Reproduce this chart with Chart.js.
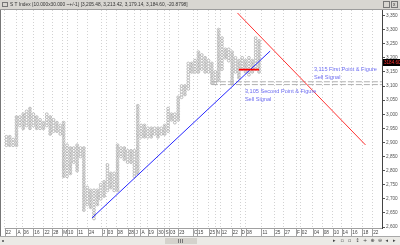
<!DOCTYPE html>
<html>
<head>
<meta charset="utf-8">
<script src="https://cdn.jsdelivr.net/npm/chart.js@4.4.0/dist/chart.umd.min.js"></script>
<style>
  html, body { margin: 0; padding: 0; background: #fff; }
  #chart { display: block; }
</style>
</head>
<body>
<canvas id="chart" width="400" height="245"></canvas>
<script>
// Point & figure columns, box size 10 (low / high box of each column)
const boxSize = 10;
const colLow = [2890, 2890, 2890, 2890, 2960, 2950, 2960, 2950, 2960, 2950,
  2950, 2950, 2960, 2930, 2940, 2940, 2930, 2780, 2780, 2790,
  2830, 2800, 2850, 2660, 2680, 2670, 2630, 2680, 2700, 2710,
  2730, 2740, 2730, 2730, 2850, 2840, 2830, 2830, 2780, 2790,
  2920, 2920, 2920, 2920, 2930, 2920, 2930, 2930, 2940, 2980,
  2970, 2980, 3060, 3070, 3090, 3150, 3150, 3150, 3160, 3150,
  3150, 3110, 3110, 3120, 3160, 3200, 3190, 3110, 3150, 3130,
  3160, 3150, 3140, 3150, 3160, 3150];
const colHigh = [2920, 2920, 2910, 2990, 2990, 3000, 3010, 3020, 3000, 2990,
  2980, 2970, 3000, 2990, 2980, 2970, 2960, 2970, 2890, 2880,
  2880, 2890, 2880, 2880, 2740, 2730, 2730, 2730, 2750, 2760,
  2820, 2790, 2790, 2890, 2880, 2880, 2870, 2870, 2870, 3030,
  2960, 2960, 2950, 2950, 2950, 2950, 2950, 2960, 3020, 3000,
  3000, 3060, 3100, 3100, 3180, 3180, 3190, 3220, 3210, 3200,
  3190, 3180, 3150, 3300, 3270, 3230, 3230, 3220, 3200, 3190,
  3200, 3190, 3200, 3190, 3270, 3260];

// date markers along the column axis
const dateLabels = ['22', 'A', '06', '16', '22', '28', 'M', '10', '11', '24',
  'J', '03', '08', '28', 'J', 'A', '19', '30', 'S', '03', '23', 'O', '15', '25',
  'N', '12', '22', 'D', '08', '11', '25', '27', 'F', '02', '04', '08', '10',
  '14', '16', '18', '22'];
const datePos = [-0.5, 3, 4.8, 8, 11, 13.6, 16.6, 18, 21, 24.2,
  28.3, 29.8, 32.7, 36, 38, 39.8, 41.9, 44.8, 46.9, 48.3, 51, 55.4, 56.6, 60.1,
  62.1, 63.6, 66.9, 69.5, 71, 75.7, 79.5, 82.4, 86, 87.4, 91, 93.9, 96.9,
  99.5, 102.4, 105.6, 108.6];

const yTicks = [3350, 3300, 3250, 3200, 3150, 3100, 3050, 3000, 2950, 2900,
  2850, 2800, 2750, 2700, 2650, 2600];
const lastPrice = 3184.60;

// trend lines and signals
const upTrendX = [25.4, 78.3];
const upTrendY = [2632, 3224];
const downTrendX = [68.6, 106.6];
const downTrendY = [3359, 2891];
const breakX = [69, 75];
const breakY = [3158, 3158];
const signalLevels = [3115, 3105];
const signalStart = 61;

const noteText = ['3,115 First Point & Figure', 'Sell Signal',
  '3,105 Second Point & Figure', 'Sell Signal'];
const noteX = [91.3, 91.3, 70.8, 70.8];
const noteY = [3157, 3130, 3080, 3054];

const titleText = 'S T Index (10.000x30.000 ~+/-1) [3,205.48, 3,213.42, 3,179.14, 3,184.60, -20.8798]';

const xMin = -0.5, xMax = 111.5;

const boxPoints = [];
const dotPoints = [];
colLow.forEach((lo, i) => {
  for (let v = lo; v <= colHigh[i]; v += boxSize) {
    boxPoints.push({ x: i, y: v });
    if (i % 2) dotPoints.push({ x: i, y: v });
  }
});

const pair = (xs, ys) => xs.map((x, i) => ({ x: x, y: ys[i] }));

const chrome = {
  id: 'chrome',
  afterDraw(chart) {
    const ctx = chart.ctx;
    const area = chart.chartArea;
    const xs = chart.scales.x, ys = chart.scales.y;
    ctx.save();

    // notes
    ctx.fillStyle = '#6e6ef2';
    ctx.font = '5.6px "Liberation Sans", Arial, sans-serif';
    ctx.textBaseline = 'middle';
    ctx.textAlign = 'left';
    noteText.forEach((t, i) => {
      ctx.fillText(t, xs.getPixelForValue(noteX[i]), ys.getPixelForValue(noteY[i]));
    });

    // plot bottom line and label separators
    ctx.strokeStyle = '#a0a0a0';
    ctx.lineWidth = 1;
    ctx.beginPath();
    ctx.moveTo(area.left, area.bottom + 0.5);
    ctx.lineTo(area.right, area.bottom + 0.5);
    datePos.forEach(p => {
      const px = Math.round(xs.getPixelForValue(p)) + 0.5;
      ctx.moveTo(px, area.bottom);
      ctx.lineTo(px, area.bottom + 8);
    });
    ctx.stroke();

    // last price box
    const py = Math.round(ys.getPixelForValue(lastPrice));
    ctx.fillStyle = '#000';
    ctx.fillRect(area.right + 1, py - 3, 400 - area.right - 1, 7);
    ctx.fillStyle = '#ff3030';
    ctx.font = '4.6px "Liberation Sans", Arial, sans-serif';
    ctx.fillText(lastPrice.toFixed(2), area.right + 2, py + 0.5);

    // window title bar
    ctx.fillStyle = '#d8d6d1';
    ctx.fillRect(0, 0, 400, 9);
    ctx.fillStyle = '#9c9c9c';
    ctx.fillRect(0, 9, 400, 1);
    ctx.strokeStyle = '#777';
    ctx.strokeRect(2.5, 2.5, 5, 4);
    ctx.strokeRect(383.5, 1.5, 6, 6);
    ctx.strokeRect(391.5, 1.5, 6, 6);
    ctx.fillStyle = '#333';
    ctx.font = '4.8px "Liberation Sans", Arial, sans-serif';
    ctx.fillText(titleText, 10, 5);
    ctx.fillText('x', 393, 4.5);

    // left window border
    ctx.fillStyle = '#777';
    ctx.fillRect(0, 10, 1, 226);

    // scrollbar row
    ctx.fillStyle = '#ebeae6';
    ctx.fillRect(0, 236, 400, 9);
    ctx.fillStyle = '#a8a8a8';
    ctx.fillRect(0, 236, 400, 1);
    ctx.fillStyle = '#d4d2cc';
    ctx.fillRect(165, 238, 32, 6);
    ctx.fillStyle = '#777';
    ctx.fillRect(178, 239, 1, 4);
    ctx.fillRect(180, 239, 1, 4);
    ctx.fillRect(182, 239, 1, 4);
    ctx.fillRect(2, 240, 2, 2);
    ctx.font = '5px "DejaVu Sans", sans-serif';
    ctx.fillStyle = '#444';
    ['▸', '▫', '▫', '↕', '+', '⊕', '⊖', '◂', '▸'].forEach((g, i) => {
      ctx.fillText(g, 333 + i * 7.5, 241);
    });
    ctx.restore();
  }
};

new Chart(document.getElementById('chart'), {
  type: 'scatter',
  data: {
    datasets: [
      {
        type: 'line', data: pair(breakX, breakY), borderColor: '#ff0000',
        borderWidth: 1.6, pointRadius: 0, order: 0
      },
      {
        type: 'line', data: pair(upTrendX, upTrendY), borderColor: '#2626ff',
        borderWidth: 1, pointRadius: 0, order: 1
      },
      {
        type: 'line', data: pair(downTrendX, downTrendY), borderColor: '#ff3030',
        borderWidth: 1, pointRadius: 0, order: 1
      },
      {
        type: 'line', data: [{ x: signalStart, y: signalLevels[0] }, { x: xMax, y: signalLevels[0] }],
        borderColor: '#b0b0b0', borderWidth: 1, borderDash: [6, 2], pointRadius: 0, order: 2
      },
      {
        type: 'line', data: [{ x: signalStart, y: signalLevels[1] }, { x: xMax, y: signalLevels[1] }],
        borderColor: '#b0b0b0', borderWidth: 1, borderDash: [6, 2], pointRadius: 0, order: 2
      },
      {
        data: dotPoints, pointRadius: 0.45, backgroundColor: '#555',
        borderWidth: 0, order: 3
      },
      {
        data: boxPoints, pointStyle: 'circle', pointRadius: 1.4,
        backgroundColor: '#ffffff', borderColor: '#a2a2a2', borderWidth: 0.7, order: 4
      }
    ]
  },
  options: {
    responsive: false,
    animation: false,
    devicePixelRatio: 1,
    layout: { padding: { top: 10, left: 1, right: 0, bottom: 9 } },
    plugins: { legend: { display: false }, tooltip: { enabled: false } },
    scales: {
      x: {
        type: 'linear',
        min: xMin,
        max: xMax,
        afterBuildTicks: s => { s.ticks = datePos.map(v => ({ value: v })); },
        afterFit: s => { s.height = 8; },
        grid: { color: '#d2d2d2', lineWidth: 1, drawTicks: false },
        border: { display: false, dash: [1, 2] },
        ticks: {
          autoSkip: false,
          maxRotation: 0,
          align: 'start',
          labelOffset: 1,
          padding: 1.5,
          color: '#444',
          font: { size: 4.7, family: '"Liberation Sans", Arial, sans-serif' },
          callback: (v, i) => dateLabels[i]
        }
      },
      y: {
        position: 'right',
        min: 2596.5,
        max: 3369.5,
        afterBuildTicks: s => { s.ticks = yTicks.map(v => ({ value: v })); },
        afterFit: s => { s.width = 18; },
        grid: { drawOnChartArea: false, tickLength: 3, color: '#555' },
        border: { color: '#444' },
        ticks: {
          padding: 1,
          color: '#555',
          font: { size: 4.7, family: '"Liberation Sans", Arial, sans-serif' }
        }
      }
    }
  },
  plugins: [chrome]
});
</script>
</body>
</html>
